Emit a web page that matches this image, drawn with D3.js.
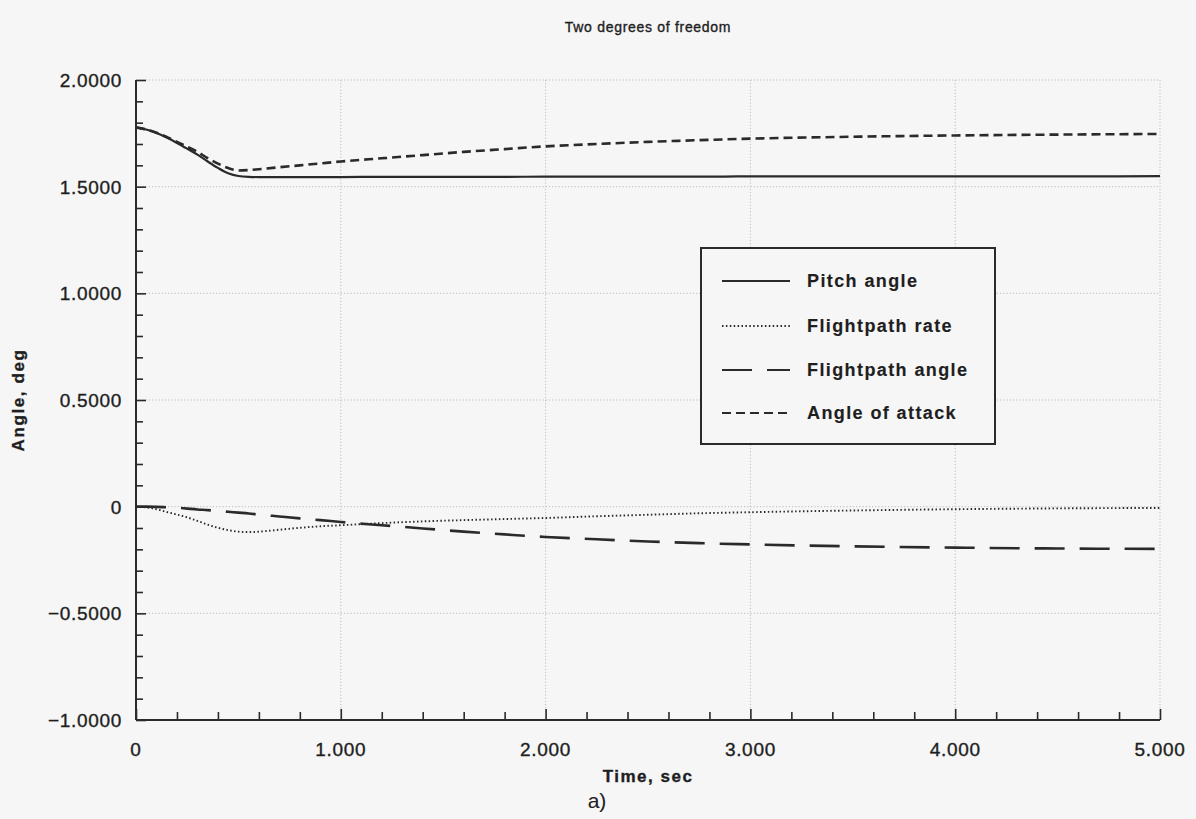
<!DOCTYPE html>
<html>
<head>
<meta charset="utf-8">
<script src="https://cdn.jsdelivr.net/npm/d3@7"></script>
<style>
  html, body { margin: 0; padding: 0; background: #f6f6f6; }
  svg { display: block; }
  text { font-family: "Liberation Sans", Arial, Helvetica, sans-serif; fill: #1e1e1e; stroke: #1e1e1e; stroke-width: 0.35px; }
</style>
</head>
<body>
<svg id="chart" width="1196" height="819"></svg>
<script>
// Time samples (sec) and responses (deg)
const time        = [0, 0.05, 0.1, 0.15, 0.2, 0.25, 0.3, 0.35, 0.4, 0.45, 0.5, 0.55, 0.6, 0.7, 0.8, 0.9, 1.0, 1.2, 1.4, 1.6, 1.8, 2.0, 2.25, 2.5, 2.75, 3.0, 3.5, 4.0, 4.5, 5.0];
const pitchAngle  = [1.778, 1.768, 1.752, 1.730, 1.705, 1.678, 1.650, 1.618, 1.588, 1.563, 1.550, 1.546, 1.545, 1.545, 1.545, 1.545, 1.545, 1.546, 1.546, 1.546, 1.546, 1.547, 1.547, 1.547, 1.547, 1.548, 1.548, 1.548, 1.548, 1.549];
const flightRate  = [0, -0.003, -0.012, -0.025, -0.037, -0.050, -0.067, -0.084, -0.099, -0.110, -0.117, -0.119, -0.117, -0.108, -0.099, -0.092, -0.087, -0.077, -0.069, -0.063, -0.058, -0.053, -0.045, -0.038, -0.031, -0.026, -0.018, -0.012, -0.008, -0.006];
const flightAngle = [0, 0, -0.001, -0.003, -0.005, -0.009, -0.013, -0.016, -0.020, -0.024, -0.028, -0.032, -0.037, -0.046, -0.055, -0.063, -0.072, -0.087, -0.102, -0.117, -0.130, -0.142, -0.153, -0.163, -0.171, -0.177, -0.186, -0.192, -0.196, -0.198];
const attack      = [1.778, 1.768, 1.753, 1.733, 1.710, 1.687, 1.663, 1.634, 1.608, 1.587, 1.576, 1.578, 1.582, 1.591, 1.600, 1.609, 1.618, 1.633, 1.648, 1.663, 1.676, 1.689, 1.700, 1.710, 1.718, 1.725, 1.734, 1.740, 1.744, 1.747];

const seriesNames = ["Pitch angle", "Flightpath rate", "Flightpath angle", "Angle of attack"];
const xTicks = [0, 1, 2, 3, 4, 5];
const xTickLabels = ["0", "1.000", "2.000", "3.000", "4.000", "5.000"];
const yTicks = [2, 1.5, 1, 0.5, 0, -0.5, -1];
const yTickLabels = ["2.0000", "1.5000", "1.0000", "0.5000", "0", "\u22120.5000", "\u22121.0000"];

const svg = d3.select("#chart");
const W = 1196, H = 819;
const m = { left: 136, right: 36, top: 80, bottom: 99 };
const x = d3.scaleLinear().domain([0, 5]).range([m.left, W - m.right]);
const y = d3.scaleLinear().domain([-1, 2]).range([H - m.bottom, m.top]);

const ink = "#2a2a2a";

// dotted grid
const grid = svg.append("g");
grid.selectAll("line.gx").data(xTicks.slice(1)).join("line")
  .attr("x1", d => x(d)).attr("x2", d => x(d))
  .attr("y1", y(2)).attr("y2", y(-1))
  .attr("stroke", "#bcbcbc").attr("stroke-width", 1).attr("stroke-dasharray", "1.2,2");
grid.selectAll("line.gy").data(yTicks.filter(v => v > -1)).join("line")
  .attr("x1", x(0)).attr("x2", x(5))
  .attr("y1", d => y(d)).attr("y2", d => y(d))
  .attr("stroke", "#bcbcbc").attr("stroke-width", 1).attr("stroke-dasharray", "1.2,2");

// axes with inward ticks
const yMinor = d3.range(-1, 2.0001, 0.1).map(v => +v.toFixed(2)).filter(v => !yTicks.some(t => Math.abs(t - v) < 1e-6));
const xMinor = d3.range(0, 5.0001, 0.2).map(v => +v.toFixed(2)).filter(v => !xTicks.some(t => Math.abs(t - v) < 1e-6));

const yAxis = d3.axisRight(y).tickValues(yTicks).tickSize(10).tickFormat("");
const yAxisMinor = d3.axisRight(y).tickValues(yMinor).tickSize(7).tickFormat("");
const xAxis = d3.axisTop(x).tickValues(xTicks).tickSize(11).tickFormat("");
const xAxisMinor = d3.axisTop(x).tickValues(xMinor).tickSize(8).tickFormat("");

function styleAxis(g) {
  g.select(".domain").remove();
  g.selectAll(".tick line").attr("stroke", ink).attr("stroke-width", 1.6);
}
svg.append("g").attr("transform", `translate(${x(0)},0)`).call(yAxis).call(styleAxis);
svg.append("g").attr("transform", `translate(${x(0)},0)`).call(yAxisMinor).call(styleAxis);
svg.append("g").attr("transform", `translate(0,${y(-1)})`).call(xAxis).call(styleAxis);
svg.append("g").attr("transform", `translate(0,${y(-1)})`).call(xAxisMinor).call(styleAxis);

svg.append("line").attr("x1", x(0)).attr("x2", x(0)).attr("y1", y(2)).attr("y2", y(-1))
  .attr("stroke", ink).attr("stroke-width", 2);
svg.append("line").attr("x1", x(0)).attr("x2", x(5)).attr("y1", y(-1)).attr("y2", y(-1))
  .attr("stroke", ink).attr("stroke-width", 2);

// tick labels
svg.append("g").selectAll("text").data(yTicks).join("text")
  .attr("x", x(0) - 14).attr("y", d => y(d)).attr("dy", "0.36em")
  .attr("text-anchor", "end").attr("font-size", 19).attr("letter-spacing", 0.7)
  .text((d, i) => yTickLabels[i]);
svg.append("g").selectAll("text").data(xTicks).join("text")
  .attr("x", d => x(d)).attr("y", y(-1) + 36)
  .attr("text-anchor", "middle").attr("font-size", 19).attr("letter-spacing", 0.7)
  .text((d, i) => xTickLabels[i]);

// titles
svg.append("text").attr("x", (x(0) + x(5)) / 2).attr("y", 32).attr("text-anchor", "middle")
  .attr("font-size", 14).attr("letter-spacing", 0.7).text("Two degrees of freedom");
svg.append("text").attr("x", (x(0) + x(5)) / 2).attr("y", 782).attr("text-anchor", "middle")
  .attr("font-size", 17).attr("font-weight", "bold").attr("letter-spacing", 1.5).text("Time, sec");
svg.append("text").attr("transform", `translate(24,${(y(2) + y(-1)) / 2}) rotate(-90)`)
  .attr("text-anchor", "middle").attr("font-size", 17).attr("font-weight", "bold").attr("letter-spacing", 1.6)
  .text("Angle, deg");
svg.append("text").attr("x", 597).attr("y", 808).attr("text-anchor", "middle")
  .attr("font-size", 21).style("stroke-width", "0.1px").text("a)");

// curves
const styles = [
  { data: pitchAngle,  dash: null,      width: 2.2 },
  { data: flightRate,  dash: "1.5,2.4", width: 1.9 },
  { data: flightAngle, dash: "30,15",   width: 2.6 },
  { data: attack,      dash: "9,5",     width: 2.6 }
];
const line = d3.line().x((d, i) => x(time[i])).y(d => y(d)).curve(d3.curveMonotoneX);
svg.append("g").selectAll("path").data(styles).join("path")
  .attr("d", s => line(s.data))
  .attr("fill", "none").attr("stroke", ink)
  .attr("stroke-width", s => s.width)
  .attr("stroke-dasharray", s => s.dash);

// legend
const lg = svg.append("g").attr("transform", "translate(701,248)");
lg.append("rect").attr("width", 294).attr("height", 196)
  .attr("fill", "#f6f6f6").attr("stroke", ink).attr("stroke-width", 2);
const rowY = [33, 78, 122, 165];
const row = lg.selectAll("g.row").data(styles).join("g")
  .attr("transform", (d, i) => `translate(0,${rowY[i]})`);
row.append("line").attr("x1", 21).attr("x2", 89).attr("y1", 0).attr("y2", 0)
  .attr("stroke", ink).attr("stroke-width", s => Math.min(s.width, 2))
  .attr("stroke-dasharray", s => s.dash);
row.append("text").attr("x", 106).attr("dy", "0.36em")
  .attr("font-size", 18).attr("font-weight", "bold").attr("letter-spacing", 1.4)
  .style("stroke-width", "0.15px")
  .text((d, i) => seriesNames[i]);
</script>
</body>
</html>
